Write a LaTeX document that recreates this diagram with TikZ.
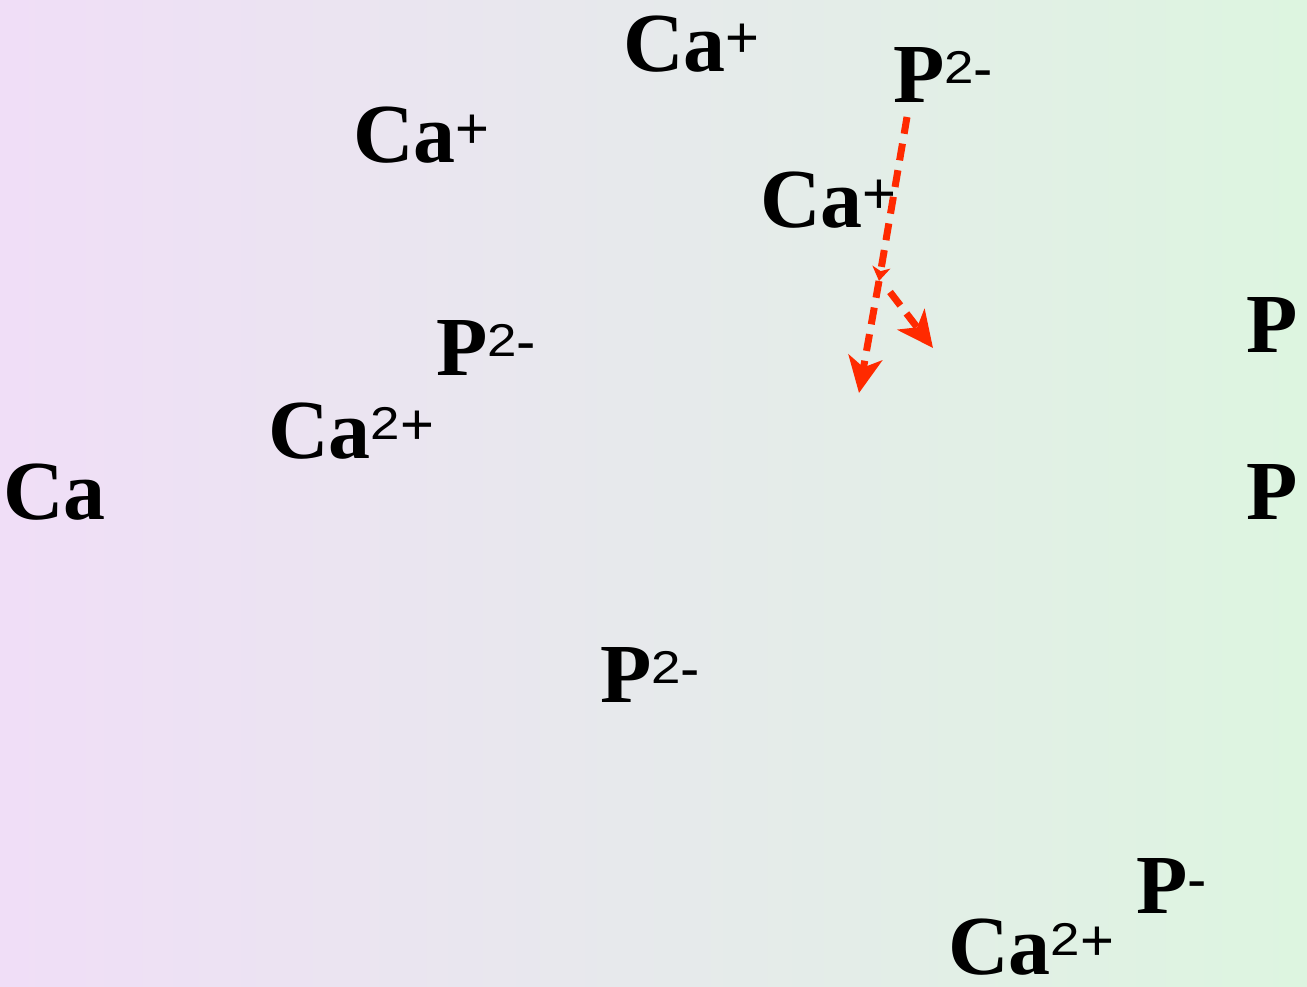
\documentclass[tikz,border=0pt]{standalone}
\usepackage{fontspec}
\usepackage{graphicx}
\setmainfont{Liberation Serif}
\newfontfamily\supfont{Liberation Sans}
\usetikzlibrary{arrows.meta}
\definecolor{bgleft}{RGB}{240,222,247}
\definecolor{bgright}{RGB}{221,245,224}
\definecolor{arrowred}{RGB}{255,42,0}
\newcommand\ionnum[1]{\raisebox{19pt}{\scalebox{1.15}[1]{\fontsize{46}{46}\selectfont\supfont\mdseries #1}}}
\newcommand\ionsign[1]{\raisebox{14pt}{\fontsize{58}{58}\selectfont\supfont\mdseries #1}}
\tikzset{
  ion/.style={anchor=base west, inner sep=0pt, text depth=0pt, font=\fontsize{84}{84}\selectfont\bfseries},
  flow/.style={draw=arrowred, line width=7pt, dash pattern=on 17pt off 10pt},
  bigtip/.style={-{Stealth[length=36pt, width=34pt, inset=10pt]}},
  smalltip/.style={-{Stealth[length=14pt, width=18pt, inset=4pt]}},
}
\begin{document}
\begin{tikzpicture}[x=1pt, y=-1pt]
\useasboundingbox (0,0) rectangle (1307,987);
\shade[left color=bgleft, right color=bgright] (0,0) rectangle (1307,987);
\node[ion] (ca1) at (623,72) {Ca\ionsign{+}};
\node[ion] (p1) at (893,103) {P\ionnum{2}\ionsign{-}};
\node[ion] (ca2) at (353,163) {Ca\ionsign{+}};
\node[ion] (ca3) at (760,228) {Ca\ionsign{+}};
\node[ion] (p2) at (1246,352) {P};
\node[ion] (p3) at (436,375) {P\ionnum{2}\ionsign{-}};
\node[ion] (ca4) at (268,458) {Ca\ionnum{2}\ionsign{+}};
\node[ion] (ca5) at (3,519) {Ca};
\node[ion] (p4) at (1246,519) {P};
\node[ion] (p5) at (600,702) {P\ionnum{2}\ionsign{-}};
\node[ion] (p6) at (1136,913) {P\ionsign{-}};
\node[ion] (ca6) at (948,974) {Ca\ionnum{2}\ionsign{+}};
\coordinate (start) at (907,117);
\coordinate (split) at (879,281);
\coordinate (branch) at (890,292);
\coordinate (tipA) at (859,393);
\coordinate (tipB) at (933,348);
\draw[flow, smalltip] (start) -- (split);
\draw[flow, bigtip] (split) -- (tipA);
\draw[flow, bigtip] (branch) -- (tipB);
\end{tikzpicture}
\end{document}
